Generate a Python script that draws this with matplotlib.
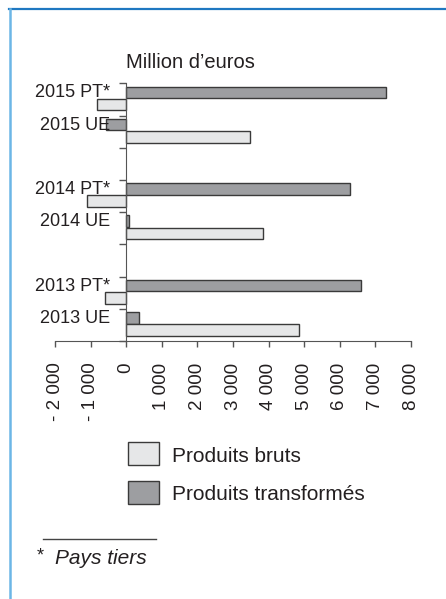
import numpy as np
import matplotlib.pyplot as plt
from matplotlib.patches import Rectangle
from matplotlib.lines import Line2D

plt.rcParams['font.family'] = ['Liberation Sans', 'DejaVu Sans']

# Balance commerciale, million d'euros (bandes vides entre les années)
labels = ["2013 UE", "2013 PT*", "2014 UE", "2014 PT*", "2015 UE", "2015 PT*"]
band = [0, 1, 3, 4, 6, 7]
bruts = [4840, -590, 3850, -1090, 3480, -820]
transformes = [350, 6590, 90, 6280, -570, 7300]
xticks = [-2000, -1000, 0, 1000, 2000, 3000, 4000, 5000, 6000, 7000, 8000]
xticklabels = ["- 2 000", "- 1 000", "0", "1 000", "2 000", "3 000",
               "4 000", "5 000", "6 000", "7 000", "8 000"]

W, H = 446, 599
fig = plt.figure(figsize=(W / 100, H / 100), dpi=100)
ax = fig.add_axes([55 / W, 1 - 341 / H, 356 / W, 257.7 / H])

txt = "#231f20"
light = "#e6e7e8"
dark = "#9d9ea1"
edge = "#3a3a3a"

pos = np.array(band)
ax.barh(pos + 0.72, transformes, height=0.36, color=dark, edgecolor=edge, linewidth=1)
ax.barh(pos + 0.34, bruts, height=0.36, color=light, edgecolor=edge, linewidth=1)

ax.set_xlim(-2000, 8000)
ax.set_ylim(0, 8)
for s in ["top", "right"]:
    ax.spines[s].set_visible(False)
ax.spines["left"].set_position(("data", 0))
ax.spines["left"].set_color("#555555")
ax.spines["bottom"].set_color("#555555")

ax.set_yticks(range(0, 9))
ax.set_yticklabels([])
ax.tick_params(axis="y", length=5, width=1, color="#555555", direction="out")

ax.set_xticks(xticks)
ax.set_xticklabels(xticklabels, rotation=90, va="top", ha="center",
                   fontsize=13.5, color=txt)
ax.tick_params(axis="x", length=4.5, width=1, color="#555555", pad=11)

for lab, b in zip(labels, band):
    ax.text(-450, b + 0.70, lab, ha="right", va="center", fontsize=13, color=txt)

fig.text(125.7 / W, 1 - 63 / H, "Million d\u2019euros", ha="left", va="center",
         fontsize=14.5, color=txt)

# légende
for y0, c, lab in [(442, light, "Produits bruts"), (481, dark, "Produits transformés")]:
    fig.add_artist(Rectangle((128 / W, 1 - (y0 + 23) / H), 31 / W, 23 / H,
                             transform=fig.transFigure, facecolor=c,
                             edgecolor=edge, linewidth=1))
    fig.text(172 / W, 1 - (y0 + 14) / H, lab, ha="left", va="center",
             fontsize=15, color=txt)

# note de bas de page
fig.add_artist(Line2D([43 / W, 156 / W], [1 - 539 / H, 1 - 539 / H],
                      transform=fig.transFigure, color="#444444", linewidth=1))
fig.text(37 / W, 1 - 556 / H, "*", ha="left", va="center", fontsize=13, color=txt)
fig.text(55 / W, 1 - 558 / H, "Pays tiers", ha="left", va="center",
         fontsize=15, style="italic", color=txt)

# cadre
fig.add_artist(Line2D([9 / W, 1], [1 - 9.3 / H, 1 - 9.3 / H],
                      transform=fig.transFigure, color="#1f78c1", linewidth=1.6))
fig.add_artist(Line2D([10 / W, 10 / W], [0, 1 - 9.3 / H],
                      transform=fig.transFigure, color="#6cb6e6", linewidth=1.8))

fig.savefig("out.png", dpi=100)
